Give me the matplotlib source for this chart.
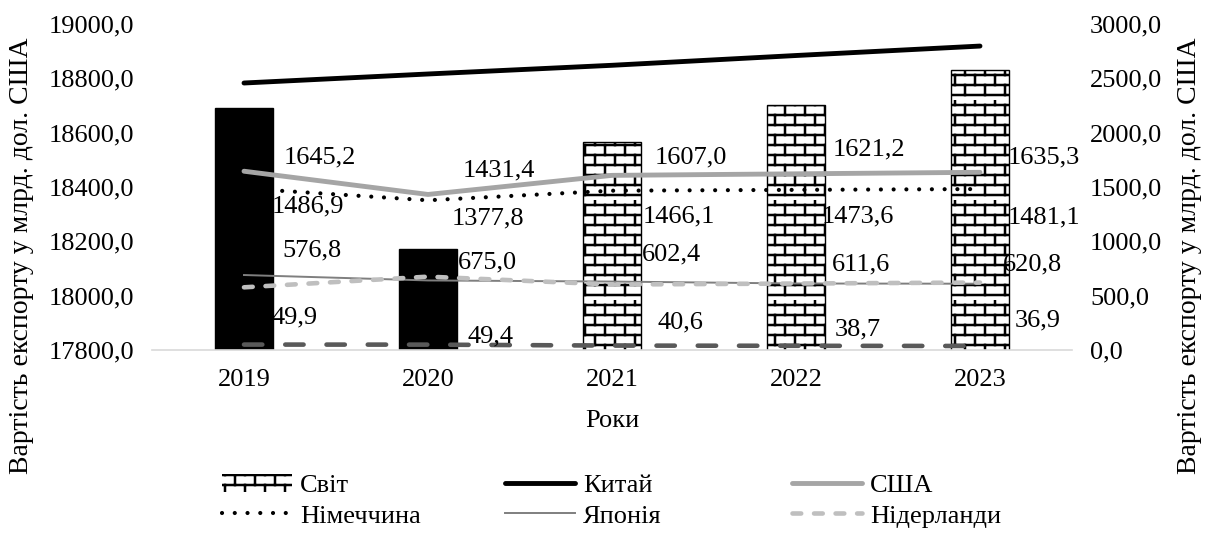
import warnings
import numpy as np
import matplotlib
matplotlib.use("Agg")
import matplotlib.pyplot as plt
import matplotlib.hatch as mhatch
import matplotlib.patches as mpatches
from matplotlib.path import Path

warnings.filterwarnings("ignore")

years = ["2019", "2020", "2021", "2022", "2023"]
world = [18691, 18170, 18565, 18702, 18830]
china = [2457, 2540, 2620, 2710, 2797]
usa = [1645.2, 1431.4, 1607.0, 1621.2, 1635.3]
germany = [1486.9, 1377.8, 1466.1, 1473.6, 1481.1]
japan = [690, 640, 630, 612, 610]
netherlands = [576.8, 675.0, 602.4, 611.6, 620.8]
other = [49.9, 49.4, 40.6, 38.7, 36.9]


class BrickHatch(mhatch.HatchPatternBase):
    # brick pattern for the hatch code "b"
    def __init__(self, hatch, density):
        n = hatch.count("b")
        self.rows = 10 * n
        self.cols = 5 * n
        self.num_vertices = (self.rows + self.rows * self.cols) * 2 if n else 0

    def set_vertices_and_codes(self, vertices, codes):
        segs = []
        for r in range(self.rows):
            y0 = (r + 0.5) / self.rows
            y1 = (r + 1.5) / self.rows
            segs.append(((0, y0), (1, y0)))
            shift = 0.5 if r % 2 else 0.0
            for c in range(self.cols):
                xx = (c + 0.25 + shift) / self.cols
                segs.append(((xx, y0), (xx, y1)))
        vertices[:] = np.array(segs).reshape(-1, 2)
        codes[0::2] = Path.MOVETO
        codes[1::2] = Path.LINETO


mhatch._hatch_types.append(BrickHatch)

FS = 19
plt.rcParams["font.family"] = "Liberation Serif"
plt.rcParams["font.size"] = FS
plt.rcParams["hatch.linewidth"] = 1.8

fig = plt.figure(figsize=(12.05, 5.34), dpi=100)
ax = fig.add_axes([152 / 1205, 1 - 350 / 534, 920 / 1205, 326 / 534])
ax2 = ax.twinx()

x = np.arange(len(years))
bars = ax.bar(x, world, width=0.31, color="black", edgecolor="black",
              linewidth=1, label="Світ", zorder=2)
for p in bars.patches[2:]:
    p.set_facecolor("white")
    p.set_hatch("b")


def fmt(v):
    return f"{v:.1f}".replace(".", ",")


ax.set_ylim(17800, 19000)
ax.set_yticks(np.arange(17800, 19001, 200))
ax.set_yticklabels([fmt(v) for v in np.arange(17800, 19001, 200)])
ax.set_xlim(-0.5, len(years) - 0.5)
ax.set_xticks(x)
ax.set_xticklabels(years)
ax.set_xlabel("Роки", labelpad=13)
ax.set_ylabel("Вартість експорту у млрд. дол. США", fontsize=20)
ax.yaxis.set_label_coords(-0.128, 0.29)

ax2.set_ylim(0, 3000)
ax2.set_yticks(np.arange(0, 3001, 500))
ax2.set_yticklabels([fmt(v) for v in np.arange(0, 3001, 500)])
ax2.set_ylabel("Вартість експорту у млрд. дол. США", fontsize=20)
ax2.yaxis.set_label_coords(1.114, 0.29)

ln_china, = ax2.plot(x, china, color="black", lw=3.5, solid_capstyle="round",
                     label="Китай")
ln_usa, = ax2.plot(x, usa, color="#A5A5A5", lw=3.5, solid_capstyle="round",
                   label="США")
ln_ger, = ax2.plot(x, germany, color="black", lw=3.0, linestyle=(0, (0.01, 3.05)),
                   dash_capstyle="round", label="Німеччина")
ln_jap, = ax2.plot(x, japan, color="#7F7F7F", lw=1.4, label="Японія")
ln_nl, = ax2.plot(x, netherlands, color="#BFBFBF", lw=3.3,
                  linestyle=(0, (1.9, 2.8)), dash_capstyle="round",
                  label="Нідерланди")
ln_other, = ax2.plot(x, other, color="#595959", lw=3.3,
                     linestyle=(0, (4.0, 5.0)), dash_capstyle="round",
                     label="_nolegend_")

# data label offsets in pixels (left edge, vertical centre) from each point
label_offsets = [
    (usa, [(40, -14), (35, -24), (43, -18), (37, -24), (28, -15)]),
    (germany, [(28, 18), (24, 18), (31, 26), (26, 27), (28, 28)]),
    (netherlands, [(38, -37), (30, -14), (30, -30), (36, -19), (23, -18)]),
    (other, [(28, -27), (39, -8), (45, -23), (39, -16), (35, -26)]),
]
for series, offs in label_offsets:
    for xi, v, (dx, dy) in zip(x, series, offs):
        ax2.annotate(fmt(v), (xi, v),
                     xytext=(dx * 0.72, -dy * 0.72), textcoords="offset points",
                     ha="left", va="center", fontsize=FS)

for a in (ax, ax2):
    for s in a.spines.values():
        s.set_visible(False)
    a.tick_params(length=0)
ax.tick_params(axis="y", pad=13)
ax.tick_params(axis="x", pad=14)
ax2.tick_params(axis="y", pad=13)
ax.spines["bottom"].set_visible(True)
ax.spines["bottom"].set_color("#D9D9D9")
ax.spines["bottom"].set_linewidth(1.2)

world_handle = mpatches.Patch(facecolor="white", edgecolor="black",
                              linewidth=0, hatch="b")

legend_kw = dict(frameon=False, handlelength=2.65, handletextpad=0.3,
                 labelspacing=0.25, fontsize=FS, borderaxespad=0, borderpad=0,
                 loc="upper left")
top = 1 - 474 / 534
fig.legend([world_handle, ln_ger], ["Світ", "Німеччина"],
           bbox_to_anchor=(222 / 1205, top), **legend_kw)
fig.legend([ln_china, ln_jap], ["Китай", "Японія"],
           bbox_to_anchor=(505 / 1205, top), **legend_kw)
fig.legend([ln_usa, ln_nl], ["США", "Нідерланди"],
           bbox_to_anchor=(792 / 1205, top), **legend_kw)

fig.savefig("out.png", dpi=100)
